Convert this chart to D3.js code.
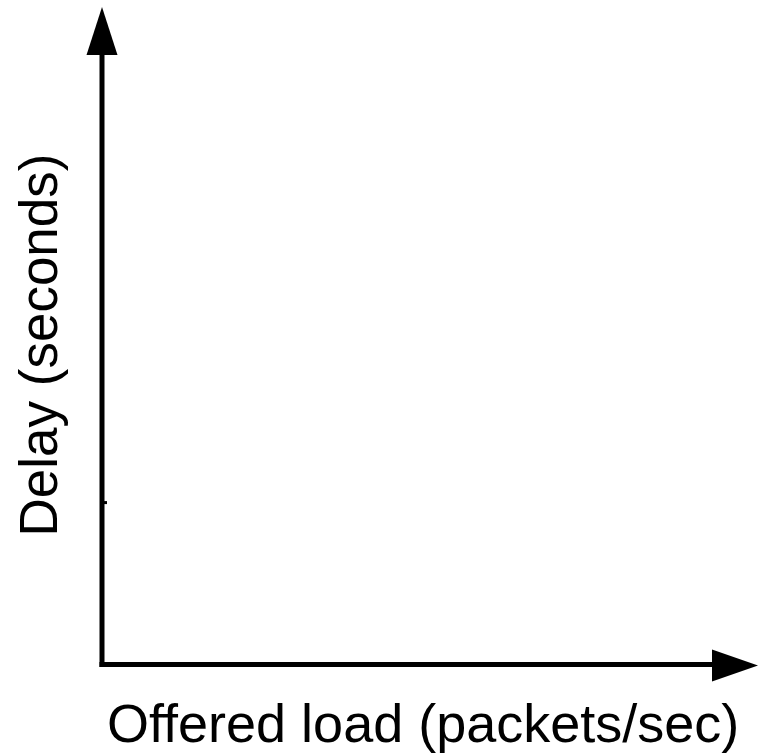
<!DOCTYPE html>
<html>
<head>
<meta charset="utf-8">
<script src="https://cdn.jsdelivr.net/npm/d3@7"></script>
<style>
  html, body { margin: 0; padding: 0; background: #fff; }
  text { font-family: "Liberation Sans", Arial, sans-serif; fill: #000; }
</style>
</head>
<body>
<svg id="chart" width="769" height="755"></svg>
<script>
// axis titles and domains (the figure is a bare, unlabeled schematic)
var xLabel = "Offered load (packets/sec)";
var yLabel = "Delay (seconds)";
var xDomain = [0, 1];
var yDomain = [0, 1];
var yTicks = [0.247];

function drawChart() {
    var svg = d3.select("#chart"), width = 769, height = 755;

    var x = d3.scaleLinear().domain(xDomain).range([102, 758]);
    var y = d3.scaleLinear().domain(yDomain).range([664.5, 7]);

    // x axis
    var gx = svg.append("g")
        .attr("transform", "translate(0," + y(0) + ")")
        .call(d3.axisBottom(x).tickValues([]).tickSizeOuter(0));
    gx.select(".domain")
        .attr("stroke", "#000")
        .attr("stroke-width", 5)
        .attr("d", "M" + (x(0) - 2.5) + ",0H" + (x(1) - 40));

    // y axis, tick points inward
    var gy = svg.append("g")
        .attr("transform", "translate(" + x(0) + ",0)")
        .call(d3.axisRight(y).tickValues(yTicks).tickSize(5).tickFormat(""));
    gy.select(".domain")
        .attr("stroke", "#000")
        .attr("stroke-width", 5)
        .attr("d", "M0," + (y(0) + 2.5) + "V" + (y(1) + 40));
    gy.selectAll(".tick line")
        .attr("stroke", "#000")
        .attr("stroke-width", 3);

    // arrow heads
    svg.append("path")
        .attr("fill", "#000")
        .attr("d", d3.line()([
            [x(0), y(1)],
            [x(0) + 15.5, y(1) + 48],
            [x(0) - 15.5, y(1) + 48]
        ]) + "Z");

    svg.append("path")
        .attr("fill", "#000")
        .attr("d", d3.line()([
            [x(1), y(0) + 1],
            [x(1) - 46, y(0) + 17],
            [x(1) - 46, y(0) - 15]
        ]) + "Z");

    // axis titles
    svg.append("text")
        .attr("x", 107)
        .attr("y", 742)
        .attr("font-size", 54)
        .text(xLabel);

    svg.append("text")
        .attr("transform", "translate(57,345) rotate(-90)")
        .attr("text-anchor", "middle")
        .attr("font-size", 53)
        .text(yLabel);
}

drawChart();
</script>
</body>
</html>
